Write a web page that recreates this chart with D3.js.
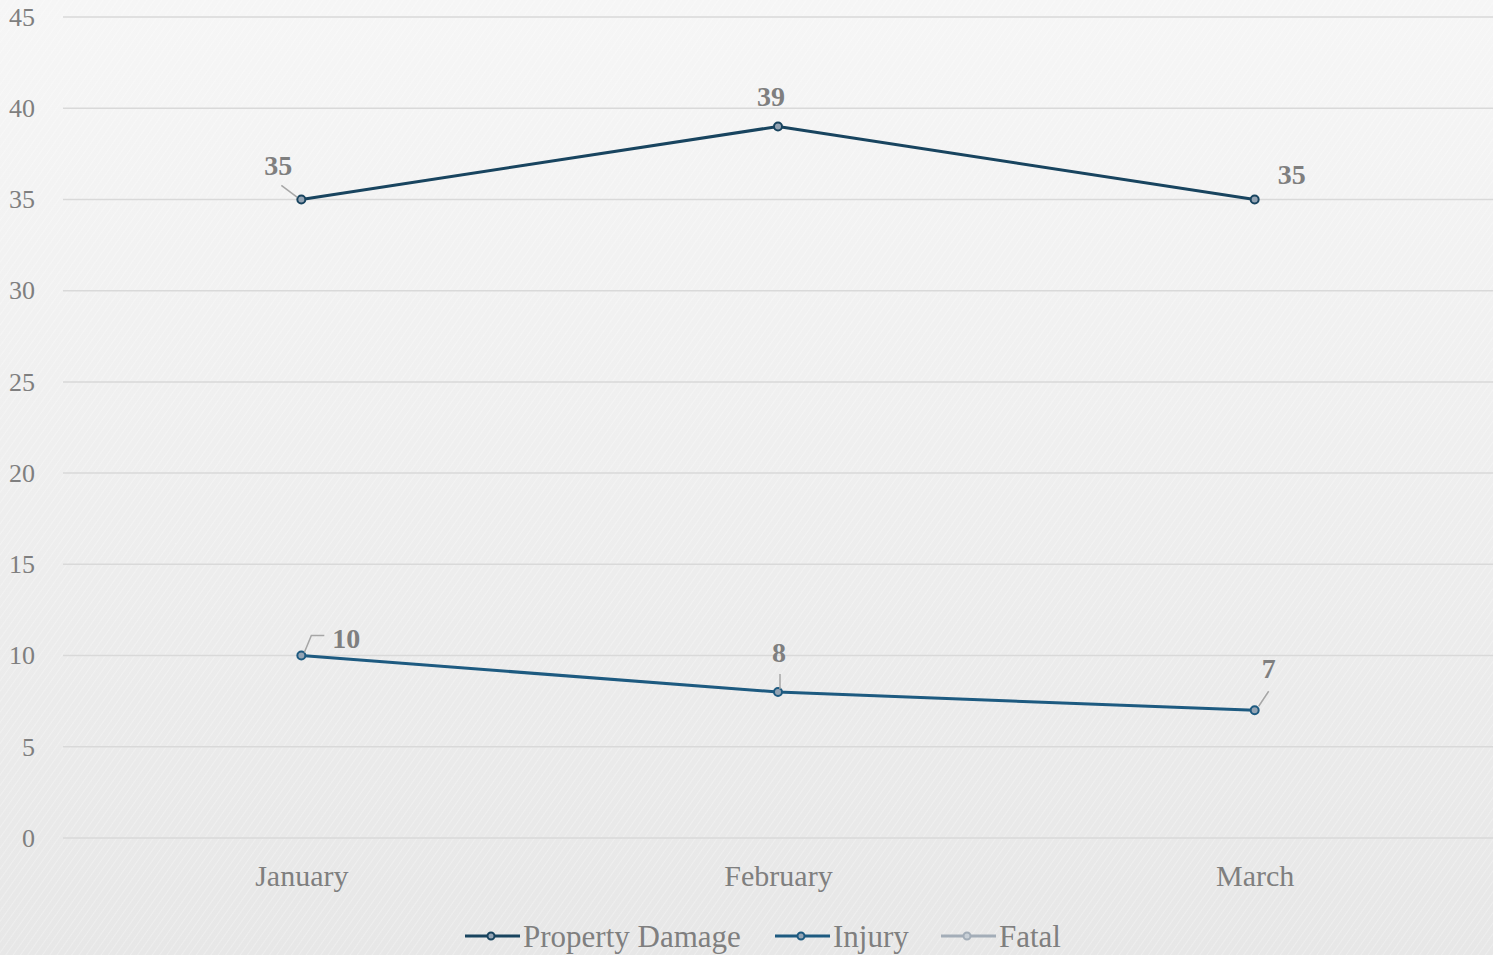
<!DOCTYPE html>
<html>
<head>
<meta charset="utf-8">
<script src="https://cdn.jsdelivr.net/npm/d3@7/dist/d3.min.js"></script>
<style>
  html, body { margin: 0; padding: 0; overflow: hidden; }
  svg { display: block; }
  svg text { font-family: "Liberation Serif", "DejaVu Serif", serif; }
</style>
</head>
<body>
<script>
// ---- data ----
const categories = ["January", "February", "March"];
const propertyDamage = [35, 39, 35];
const injury = [10, 8, 7];
const fatal = [null, null, null];
const yTicks = [0, 5, 10, 15, 20, 25, 30, 35, 40, 45];
const seriesNames = ["Property Damage", "Injury", "Fatal"];

// ---- styles ----
const W = 1493, H = 955;
const margin = { left: 63, right: 0, top: 17, bottom: 117 };
const seriesColors = ["#18445f", "#1d5a80", "#a3adb8"];
const markerFill = ["#93a3b3", "#93a3b3", "#c9d0d7"];
const labelStyle = [
  [ {dx: -23, dy: -24, leader: [[-4,-2],[-20,-14]]},
    {dx: -7, dy: -20, leader: null},
    {dx: 37, dy: -15, leader: null} ],
  [ {dx: 45, dy: -8, leader: [[3,-3],[10,-20],[23,-20]]},
    {dx: 1, dy: -30, leader: [[2,-3],[2,-18]]},
    {dx: 14, dy: -32, leader: [[4,-4],[14,-19]]} ]
];

const svg = d3.select("body").append("svg").attr("width", W).attr("height", H);
const defs = svg.append("defs");
const grad = defs.append("linearGradient").attr("id", "bg").attr("x1", 0).attr("y1", 0).attr("x2", 0).attr("y2", 1);
grad.append("stop").attr("offset", "0%").attr("stop-color", "#f6f6f6");
grad.append("stop").attr("offset", "100%").attr("stop-color", "#e7e7e7");
const pat = defs.append("pattern").attr("id", "tex").attr("width", 6).attr("height", 6)
  .attr("patternUnits", "userSpaceOnUse").attr("patternTransform", "rotate(35)");
pat.append("line").attr("x1", 0).attr("y1", 0).attr("x2", 0).attr("y2", 6)
  .attr("stroke", "#ffffff").attr("stroke-width", 1.5).attr("opacity", 0.35);

svg.append("rect").attr("width", W).attr("height", H).attr("fill", "url(#bg)");
svg.append("rect").attr("width", W).attr("height", H).attr("fill", "url(#tex)");

const x = d3.scalePoint().domain(categories).range([margin.left, W - margin.right]).padding(0.5);
const y = d3.scaleLinear().domain([0, 45]).range([H - margin.bottom - 0, margin.top]);

const font = '"Liberation Serif", "DejaVu Serif", serif';
const textColor = "#7f7f7f";

svg.append("g").selectAll("line").data(yTicks).join("line")
  .attr("x1", margin.left).attr("x2", W)
  .attr("y1", d => y(d)).attr("y2", d => y(d))
  .attr("stroke", "#d9d9d9").attr("stroke-width", 1.5);

const yAxis = d3.axisLeft(y).tickValues(yTicks).tickSize(0).tickPadding(0);
const gy = svg.append("g").attr("transform", `translate(35,0)`).call(yAxis);
gy.attr("font-family", null).attr("font-size", null);
gy.select(".domain").remove();
gy.selectAll("text").style("font-family", font).attr("font-size", 26).attr("fill", textColor).attr("dy", "0.32em");

const xAxis = d3.axisBottom(x).tickSize(0).tickPadding(0);
const gx = svg.append("g").attr("transform", `translate(0,${y(0) + 48})`).call(xAxis);
gx.attr("font-family", null).attr("font-size", null);
gx.select(".domain").remove();
gx.selectAll("text").style("font-family", font).attr("font-size", 30).attr("fill", textColor).attr("dy", 0);

const allSeries = [propertyDamage, injury, fatal];
const line = d3.line().defined(d => d != null).x((d, i) => x(categories[i])).y(d => y(d));
allSeries.forEach((vals, si) => {
  svg.append("path").datum(vals).attr("d", line).attr("fill", "none")
    .attr("stroke", seriesColors[si]).attr("stroke-width", 3).attr("stroke-linejoin", "round");
  svg.append("g").selectAll("circle").data(vals.map((v, i) => ({v, i})).filter(d => d.v != null)).join("circle")
    .attr("cx", d => x(categories[d.i])).attr("cy", d => y(d.v)).attr("r", 4)
    .attr("fill", markerFill[si]).attr("stroke", seriesColors[si]).attr("stroke-width", 2);
});

[propertyDamage, injury].forEach((vals, si) => {
  vals.forEach((v, i) => {
    const px = x(categories[i]), py = y(v);
    const st = labelStyle[si][i];
    if (st.leader) {
      svg.append("polyline")
        .attr("points", st.leader.map(p => `${px + p[0]},${py + p[1]}`).join(" "))
        .attr("fill", "none").attr("stroke", "#a6a6a6").attr("stroke-width", 1.5);
    }
    svg.append("text").attr("x", px + st.dx).attr("y", py + st.dy)
      .attr("text-anchor", "middle").style("font-family", font).attr("font-weight", "bold")
      .attr("font-size", 28).attr("fill", textColor).text(v);
  });
});

const legendY = 936;
const legendX = [465, 775, 941];
seriesNames.forEach((name, si) => {
  const lx = legendX[si];
  const g = svg.append("g");
  g.append("line").attr("x1", lx).attr("x2", lx + 55).attr("y1", legendY).attr("y2", legendY)
    .attr("stroke", seriesColors[si]).attr("stroke-width", 3);
  g.append("circle").attr("cx", lx + 26).attr("cy", legendY).attr("r", 3.5)
    .attr("fill", markerFill[si]).attr("stroke", seriesColors[si]).attr("stroke-width", 2);
  g.append("text").attr("x", lx + 58).attr("y", legendY).attr("dy", "0.35em")
    .style("font-family", font).attr("font-size", 31).attr("fill", textColor).text(name);
});
</script>
</body>
</html>
